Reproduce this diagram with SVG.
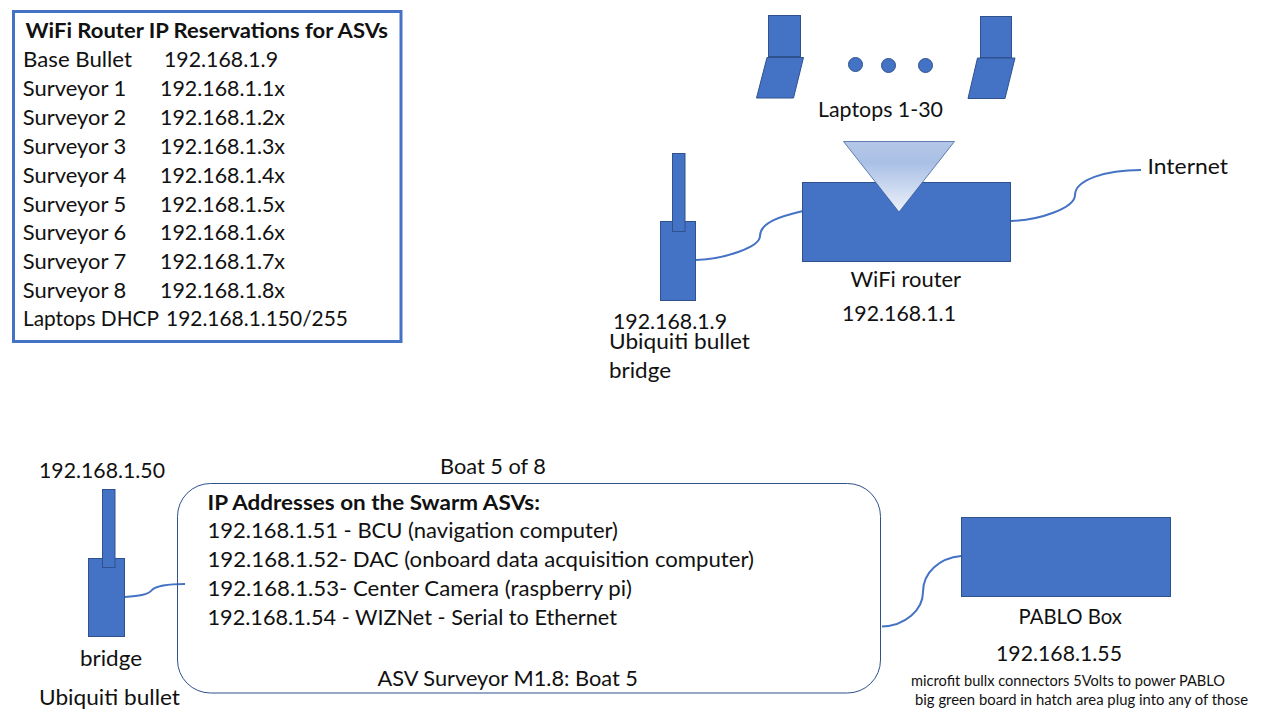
<svg xmlns="http://www.w3.org/2000/svg" width="1280" height="720" viewBox="0 0 1280 720">
<style>
text{font-family:Lato,"Liberation Sans",sans-serif;font-size:21.5px;fill:#111}
.b{font-weight:700}
.s{font-size:14.5px}
.f{fill:#4472c4;stroke:#2f528f;stroke-width:1}
.c{fill:none;stroke:#4472c4;stroke-width:2}
</style>
<defs>
<linearGradient id="g" x1="0" y1="0" x2="0" y2="1">
<stop offset="0" stop-color="#b4c7e7"/><stop offset="0.3" stop-color="#a9c0e5"/><stop offset="1" stop-color="#edf1fa"/>
</linearGradient>
</defs>
<rect width="1280" height="720" fill="#fff"/>
<g id="connectors">
<path class="c" d="M696 260C725 259 760 247 760 236C760 222 782 216 803 211"/>
<path class="c" d="M1011 221C1040 220 1075 208 1075 195C1075 180 1105 170 1141 170"/>
<path class="c" d="M125 597C138 596 148 595 152 590C156 586 170 584 185 584"/>
<path class="c" d="M882 626.500C905 626 923 610 923 592C923 572 940 558 961 556"/>
</g>
<g id="reservations">
<rect x="13.500" y="11.500" width="387.500" height="330" fill="#fff" stroke="#4472c4" stroke-width="3"/>
<text class="b" x="25.500" y="38" textLength="362.500" lengthAdjust="spacingAndGlyphs">WiFi Router IP Reservations for ASVs</text>
<text x="23" y="66.500" textLength="109" lengthAdjust="spacingAndGlyphs">Base Bullet</text><text x="164" y="66.500" textLength="114" lengthAdjust="spacingAndGlyphs">192.168.1.9</text>
<text x="22.800" y="96" textLength="103.500" lengthAdjust="spacingAndGlyphs">Surveyor 1</text><text x="160" y="96" textLength="125" lengthAdjust="spacingAndGlyphs">192.168.1.1x</text>
<text x="22.800" y="125" textLength="103.500" lengthAdjust="spacingAndGlyphs">Surveyor 2</text><text x="160" y="125" textLength="125" lengthAdjust="spacingAndGlyphs">192.168.1.2x</text>
<text x="22.800" y="154" textLength="103.500" lengthAdjust="spacingAndGlyphs">Surveyor 3</text><text x="160" y="154" textLength="125" lengthAdjust="spacingAndGlyphs">192.168.1.3x</text>
<text x="22.800" y="182.500" textLength="103.500" lengthAdjust="spacingAndGlyphs">Surveyor 4</text><text x="160" y="182.500" textLength="125" lengthAdjust="spacingAndGlyphs">192.168.1.4x</text>
<text x="22.800" y="211.500" textLength="103.500" lengthAdjust="spacingAndGlyphs">Surveyor 5</text><text x="160" y="211.500" textLength="125" lengthAdjust="spacingAndGlyphs">192.168.1.5x</text>
<text x="22.800" y="240" textLength="103.500" lengthAdjust="spacingAndGlyphs">Surveyor 6</text><text x="160" y="240" textLength="125" lengthAdjust="spacingAndGlyphs">192.168.1.6x</text>
<text x="22.800" y="269" textLength="103.500" lengthAdjust="spacingAndGlyphs">Surveyor 7</text><text x="160" y="269" textLength="125" lengthAdjust="spacingAndGlyphs">192.168.1.7x</text>
<text x="22.800" y="298" textLength="103.500" lengthAdjust="spacingAndGlyphs">Surveyor 8</text><text x="160" y="298" textLength="125" lengthAdjust="spacingAndGlyphs">192.168.1.8x</text>
<text x="23" y="325.500" textLength="136" lengthAdjust="spacingAndGlyphs">Laptops DHCP</text><text x="166" y="325.500" textLength="182" lengthAdjust="spacingAndGlyphs">192.168.1.150/255</text>
</g>
<g id="laptop-left">
<rect class="f" x="768.500" y="15.500" width="32" height="41"/>
<path class="f" d="M767 57.500H803.500L793.500 98H756.500Z"/>
</g>
<g id="laptop-dots">
<circle class="f" cx="855.500" cy="64.500" r="7"/><circle class="f" cx="888.500" cy="65.500" r="7"/><circle class="f" cx="925.500" cy="65.500" r="7"/>
</g>
<g id="laptop-right">
<rect class="f" x="980.500" y="16.500" width="31" height="41"/>
<path class="f" d="M977.500 58H1015L1005 98.500H968Z"/>
</g>
<text id="laptops-label" x="818" y="117" textLength="125" lengthAdjust="spacingAndGlyphs">Laptops 1-30</text>
<g id="router">
<rect class="f" x="802.500" y="182.500" width="208" height="79"/>
<path d="M843.500 141.500H954.500L899 212Z" fill="url(#g)" stroke="#2f528f" stroke-width="0.700"/>
<text x="850.500" y="287" textLength="110.500" lengthAdjust="spacingAndGlyphs">WiFi router</text>
<text x="842" y="321" textLength="114" lengthAdjust="spacingAndGlyphs">192.168.1.1</text>
</g>
<text id="internet" x="1147.500" y="174" textLength="80.500" lengthAdjust="spacingAndGlyphs">Internet</text>
<g id="base-bullet">
<rect class="f" x="660.500" y="221.500" width="35" height="79"/>
<rect class="f" x="672.500" y="153.500" width="12.500" height="78"/>
<text x="613" y="329" textLength="114" lengthAdjust="spacingAndGlyphs">192.168.1.9</text>
<text x="609" y="349" textLength="141" lengthAdjust="spacingAndGlyphs">Ubiquiti bullet</text>
<text x="609" y="378" textLength="62" lengthAdjust="spacingAndGlyphs">bridge</text>
</g>
<g id="boat-bullet">
<rect class="f" x="88.500" y="558.500" width="36" height="78"/>
<rect class="f" x="102.500" y="489.500" width="12.500" height="78"/>
<text x="39" y="478" textLength="126" lengthAdjust="spacingAndGlyphs">192.168.1.50</text>
<text x="80" y="666" textLength="62" lengthAdjust="spacingAndGlyphs">bridge</text>
<text x="39" y="705" textLength="141" lengthAdjust="spacingAndGlyphs">Ubiquiti bullet</text>
</g>
<text id="boat-label" x="440" y="474" textLength="106" lengthAdjust="spacingAndGlyphs">Boat 5 of 8</text>
<g id="asv">
<rect x="177.500" y="483.500" width="703" height="209.500" rx="33" ry="33" fill="none" stroke="#2f528f" stroke-width="1"/>
<text class="b" x="207.500" y="510" textLength="332.500" lengthAdjust="spacingAndGlyphs">IP Addresses on the Swarm ASVs:</text>
<text x="207.500" y="538" textLength="410.500" lengthAdjust="spacingAndGlyphs">192.168.1.51 - BCU (navigation computer)</text>
<text x="207.500" y="567" textLength="546.500" lengthAdjust="spacingAndGlyphs">192.168.1.52- DAC (onboard data acquisition computer)</text>
<text x="207.500" y="596" textLength="424.500" lengthAdjust="spacingAndGlyphs">192.168.1.53- Center Camera (raspberry pi)</text>
<text x="207.500" y="625" textLength="409.500" lengthAdjust="spacingAndGlyphs">192.168.1.54 - WIZNet - Serial to Ethernet</text>
<text x="377.500" y="686" textLength="260.500" lengthAdjust="spacingAndGlyphs">ASV Surveyor M1.8: Boat 5</text>
</g>
<g id="pablo">
<rect class="f" x="961.500" y="517.500" width="209" height="79"/>
<text x="1018.500" y="624" textLength="103.500" lengthAdjust="spacingAndGlyphs">PABLO Box</text>
<text x="996" y="661" textLength="126" lengthAdjust="spacingAndGlyphs">192.168.1.55</text>
<text class="s" x="911" y="686" textLength="314" lengthAdjust="spacingAndGlyphs">microfit bullx connectors 5Volts to power PABLO</text>
<text class="s" x="915" y="705" textLength="333" lengthAdjust="spacingAndGlyphs">big green board in hatch area plug into any of those</text>
</g>
</svg>
